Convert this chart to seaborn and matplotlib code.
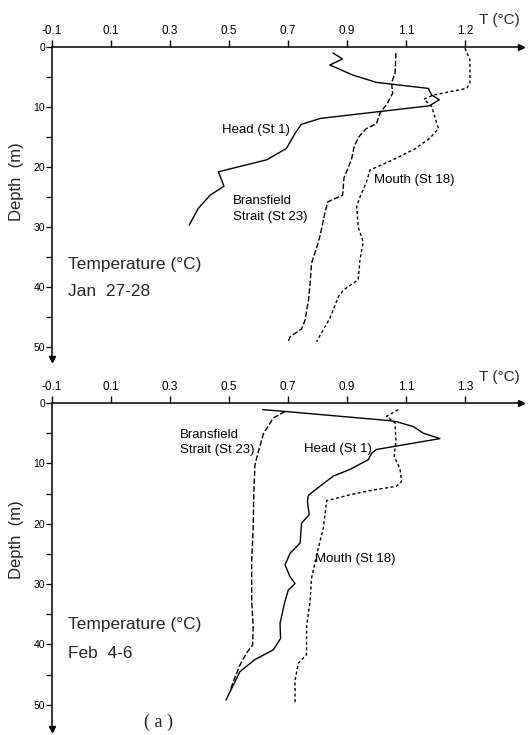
import matplotlib
matplotlib.use("Agg")
import matplotlib.pyplot as plt
import pandas as pd
import seaborn as sns

# ---- Jan 27-28 temperature profiles (depth m, temperature °C) ----
jan_head_depth = [1.0, 2.0, 3.0, 4.7, 5.9, 6.9, 8.0, 8.8, 9.8, 11.9, 12.9, 14.4,
                  16.9, 18.8, 20.8, 23.2, 24.7, 26.9, 29.7]
jan_head_temp = [0.853, 0.885, 0.842, 0.921, 1.0, 1.176, 1.187, 1.213, 1.18, 0.81,
                 0.745, 0.724, 0.695, 0.628, 0.464, 0.483, 0.436, 0.396, 0.365]

jan_strait_depth = [1.0, 4.4, 6.0, 7.7, 9.4, 11.0, 12.8, 13.6, 15.0, 16.5, 18.8,
                    21.8, 24.7, 25.8, 27.7, 31.2, 33.0, 36.0, 39.4, 42.0, 45.5,
                    47.0, 48.3, 49.2]
jan_strait_temp = [1.066, 1.063, 1.051, 1.055, 1.037, 1.012, 1.0, 0.965, 0.94,
                   0.925, 0.915, 0.89, 0.885, 0.835, 0.825, 0.81, 0.8, 0.78,
                   0.775, 0.77, 0.758, 0.746, 0.707, 0.70]

jan_mouth_depth = [0.2, 2.2, 6.0, 6.9, 8.0, 8.7, 9.9, 13.6, 15.2, 17.0, 18.8,
                   20.5, 22.4, 25.0, 26.6, 30.0, 32.5, 35.5, 38.8, 40.5, 41.6,
                   45.2, 49.1]
jan_mouth_temp = [1.30, 1.317, 1.317, 1.306, 1.193, 1.161, 1.187, 1.21, 1.181,
                  1.13, 1.056, 0.978, 0.967, 0.944, 0.933, 0.938, 0.955, 0.944,
                  0.938, 0.888, 0.871, 0.842, 0.797]

# ---- Feb 4-6 temperature profiles ----
feb_head_depth = [1.1, 1.4, 2.9, 3.1, 3.9, 5.0, 5.9, 7.7, 8.3, 9.4, 11.0, 12.1,
                  13.8, 15.3, 16.3, 18.5, 19.9, 23.2, 24.9, 26.8, 28.8, 29.9,
                  31.0, 33.0, 36.5, 39.0, 40.9, 42.5, 44.5, 49.2]
feb_head_temp = [0.614, 0.69, 1.04, 1.068, 1.125, 1.159, 1.215, 1.0, 0.984, 0.972,
                 0.91, 0.854, 0.808, 0.769, 0.766, 0.772, 0.746, 0.741, 0.707,
                 0.69, 0.707, 0.724, 0.701, 0.689, 0.673, 0.675, 0.65, 0.588,
                 0.537, 0.49]

feb_strait_depth = [1.4, 2.5, 5.2, 8.0, 10.2, 15.2, 20.7, 26.3, 32.8, 37.0,
                    40.1, 41.4, 43.4, 46.1, 47.5]
feb_strait_temp = [0.69, 0.65, 0.616, 0.60, 0.588, 0.584, 0.582, 0.577, 0.577,
                   0.582, 0.58, 0.56, 0.537, 0.515, 0.505]

feb_mouth_depth = [1.1, 2.2, 3.3, 6.3, 8.8, 11.0, 13.0, 13.8, 14.4, 15.2, 16.2,
                   20.7, 25.2, 29.0, 32.8, 37.0, 41.7, 43.1, 45.9, 49.7]
feb_mouth_temp = [1.074, 1.034, 1.063, 1.066, 1.06, 1.08, 1.085, 1.068, 0.99,
                  0.91, 0.831, 0.82, 0.797, 0.78, 0.775, 0.763, 0.763, 0.735,
                  0.724, 0.724]

# ---- axis ticks ----
temp_ticks = [-0.1, 0.1, 0.3, 0.5, 0.7, 0.9, 1.1, 1.3]
jan_tick_labels = ["-0.1", "0.1", "0.3", "0.5", "0.7", "0.9", "1.1", "1.2"]
feb_tick_labels = ["-0.1", "0.1", "0.3", "0.5", "0.7", "0.9", "1.1", "1.3"]
depth_ticks = [0, 10, 20, 30, 40, 50]
depth_minor = [5, 15, 25, 35, 45]

sns.set_style("white")
plt.rcParams["font.family"] = ["Liberation Sans", "DejaVu Sans"]

fig = plt.figure(figsize=(5.29, 7.35), dpi=100)

SOLID = "-"
STRAIT_DASH = (0, (4.0, 1.6))
MOUTH_DASH = (0, (2.2, 1.8))


def frame(df_list, rect, ymax, tick_labels):
    ax = fig.add_axes(rect)
    for depth, temp, ls in df_list:
        df = pd.DataFrame({"temp": temp, "depth": depth})
        sns.lineplot(data=df, x="temp", y="depth", sort=False, estimator=None,
                     color="black", linewidth=1.0, linestyle=ls, ax=ax)
    ax.set_xlim(-0.1, 1.49)
    ax.set_ylim(ymax, 0)
    ax.set_xlabel("")
    ax.set_ylabel("")
    for side in ("bottom", "right"):
        ax.spines[side].set_visible(False)
    for side in ("top", "left"):
        ax.spines[side].set_color("black")
        ax.spines[side].set_linewidth(1.1)
    ax.xaxis.tick_top()
    ax.set_xticks(temp_ticks)
    ax.set_xticklabels(tick_labels)
    ax.set_yticks(depth_ticks)
    ax.set_yticks(depth_minor, minor=True)
    ax.tick_params(axis="x", which="major", direction="out", length=5, width=1,
                   pad=2, labelsize=8.5, colors="black", top=True, bottom=False)
    ax.tick_params(axis="y", which="both", direction="out", length=4, width=0.9,
                   pad=1, labelsize=7.5, colors="black", left=True)
    ax.plot(1, 1, marker=">", ms=4, color="black", transform=ax.transAxes,
            clip_on=False)
    ax.plot(0, 0, marker="v", ms=4, color="black", transform=ax.transAxes,
            clip_on=False)
    return ax


W, H = 529, 735
left = 52 / W
width = (521 - 52) / W

ax1 = frame([(jan_head_depth, jan_head_temp, SOLID),
             (jan_strait_depth, jan_strait_temp, STRAIT_DASH),
             (jan_mouth_depth, jan_mouth_temp, MOUTH_DASH)],
            [left, 1 - 359 / H, width, 312 / H], 52, jan_tick_labels)

ax2 = frame([(feb_head_depth, feb_head_temp, SOLID),
             (feb_strait_depth, feb_strait_temp, STRAIT_DASH),
             (feb_mouth_depth, feb_mouth_temp, MOUTH_DASH)],
            [left, 1 - 729 / H, width, 326 / H], 54, feb_tick_labels)

lab = dict(fontsize=9.5, color="black")
TX = -0.046  # left edge of the panel titles, in °C
# Jan panel annotations
ax1.text(0.708, 13.8, "Head (St 1)", ha="right", va="center", **lab)
ax1.text(0.512, 27.0, "Bransfield\nStrait (St 23)", ha="left", va="center",
         linespacing=1.35, **lab)
ax1.text(0.99, 22.2, "Mouth (St 18)", ha="left", va="center", **lab)
ax1.text(TX, 36.3, "Temperature (°C)", ha="left", va="center", fontsize=12.5)
ax1.text(TX, 40.8, "Jan  27-28", ha="left", va="center", fontsize=12.5)

# Feb panel annotations
ax2.text(0.333, 6.5, "Bransfield\nStrait (St 23)", ha="left", va="center",
         linespacing=1.35, **lab)
ax2.text(0.755, 7.6, "Head (St 1)", ha="left", va="center", **lab)
ax2.text(0.79, 25.8, "Mouth (St 18)", ha="left", va="center", **lab)
ax2.text(TX, 36.7, "Temperature (°C)", ha="left", va="center", fontsize=12.5)
ax2.text(TX, 41.5, "Feb  4-6", ha="left", va="center", fontsize=12.5)

# Axis titles
fig.text(520 / W, 1 - 20 / H, "T (°C)", ha="right", va="center", fontsize=11)
fig.text(520 / W, 1 - 377 / H, "T (°C)", ha="right", va="center", fontsize=11)
fig.text(17 / W, 1 - 182 / H, "Depth  (m)", rotation=90, ha="center",
         va="center", fontsize=12)
fig.text(17 / W, 1 - 540 / H, "Depth  (m)", rotation=90, ha="center",
         va="center", fontsize=12)
fig.text(158 / W, 1 - 722 / H, "( a )", ha="center", va="center", fontsize=13,
         family=["Liberation Serif", "DejaVu Serif"])

fig.savefig("out.png", dpi=100, facecolor="white")
